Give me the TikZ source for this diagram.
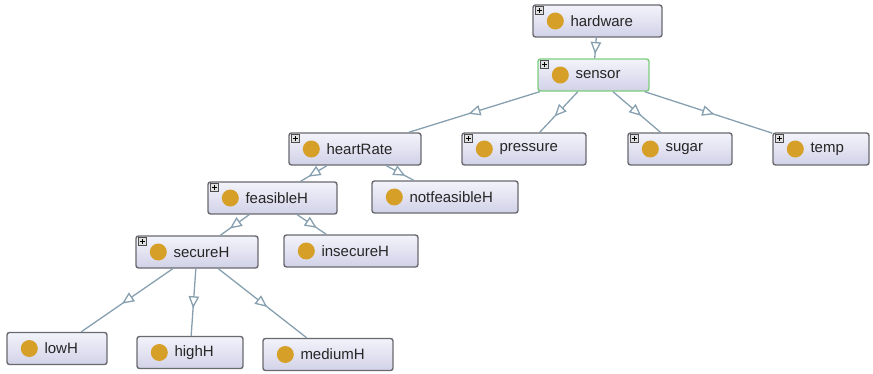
\documentclass[tikz,border=0pt]{standalone}
\usepackage{fontspec}
\setsansfont{Liberation Sans}
\usetikzlibrary{arrows.meta,decorations.markings,calc}

\definecolor{boxline}{RGB}{105,105,112}
\definecolor{boxtop}{RGB}{243,243,251}
\definecolor{boxbot}{RGB}{210,210,232}
\definecolor{selgreen}{RGB}{125,205,125}
\definecolor{dotgold}{RGB}{214,160,40}
\definecolor{isaline}{RGB}{135,160,175}

\tikzset{
  cls/.style={rounded corners=2.5pt, line width=1.4pt, top color=boxtop, bottom color=boxbot,
    minimum height=32pt, inner sep=0pt},
  clsname/.style={anchor=west, inner sep=0pt, font=\sffamily\fontsize{15}{18}\selectfont, text=black!85},
  dot/.style={circle, fill=dotgold, minimum size=17pt, inner sep=0pt},
  plusbox/.style={draw=black!70, fill=black!12, line width=0.6pt, minimum size=8pt, inner sep=0pt,
    anchor=north west},
  % subclass link, open triangle in the middle
  isa/.style={isaline, line width=1.3pt,
    decoration={markings, mark=at position 0.5 with
      {\pgftransformxshift{6pt}\arrow{Triangle[length=12pt,width=10.5pt,fill=white]}}},
    postaction={decorate}}
}

\begin{document}
\begin{tikzpicture}[x=1pt,y=-1pt]
  \useasboundingbox (0,0) rectangle (873,373);

  % class boxes: name/x/y/width/label/border/expandable
  \foreach \n/\x/\y/\w/\t/\c/\p in {
      hw/597.5/21/129/hardware/boxline/1,
      sn/593.5/75/111/sensor/selgreen/1,
      hr/355/149/132/heartRate/boxline/1,
      pr/524/149/124/pressure/boxline/1,
      sg/680/149/104/sugar/boxline/1,
      tp/821/149/96/temp/boxline/1,
      fh/272.5/198/129/feasibleH/boxline/1,
      nf/445/197/146/notfeasibleH/boxline/0,
      sh/197/252/122/secureH/boxline/1,
      ih/351/251/134/insecureH/boxline/0,
      lh/57/348.5/100/lowH/boxline/0,
      gh/190/352.5/106/highH/boxline/0,
      mh/328/354.5/130/mediumH/boxline/0}
  {
    \node[cls, draw=\c, minimum width=\w pt] (\n) at (\x,\y) {};
    \node[dot] (\n-dot) at ([xshift=23pt]\n.west) {};
    \node[clsname] (\n-txt) at ([xshift=38pt]\n.west) {\t};
    \ifnum\p=1
      \node[plusbox] (\n-plus) at ([shift={(3pt,-2pt)}]\n.north west) {};
      \draw[line width=0.7pt] ($(\n-plus.center)+(-2.5pt,0pt)$) -- +(5pt,0pt)
        ($(\n-plus.center)+(0pt,-2.5pt)$) -- +(0pt,5pt);
    \fi
  }

  % is-a links
  \foreach \a/\b in {hw/sn, sn/hr, sn/pr, sn/sg, sn/tp, hr/fh, hr/nf,
      fh/sh, fh/ih, sh/lh, sh/gh, sh/mh}
    \draw[isa] (\a) -- (\b);
\end{tikzpicture}
\end{document}
